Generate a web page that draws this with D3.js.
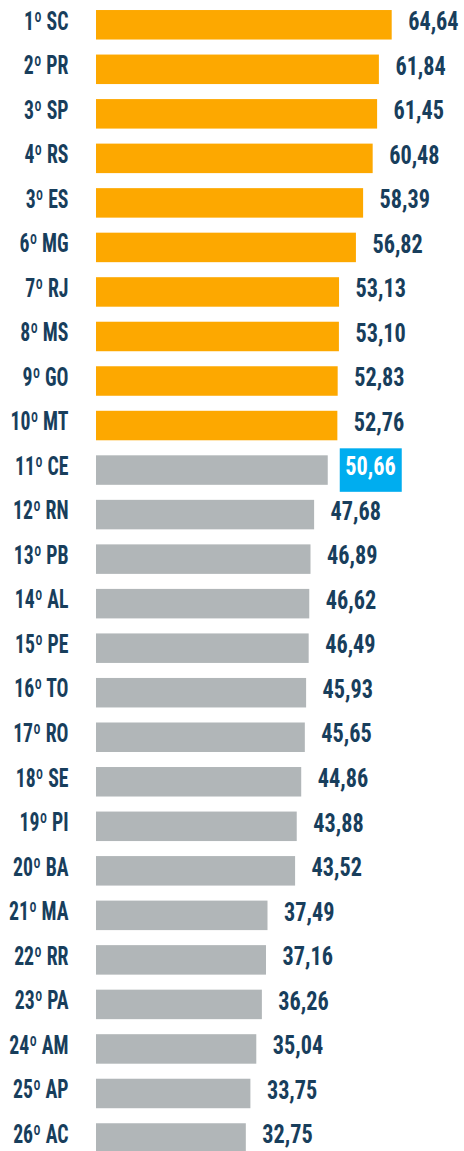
<!DOCTYPE html>
<html>
<head>
<meta charset="utf-8">
<script src="https://d3js.org/d3.v7.min.js"></script>
<style>
    body { margin: 0; background: #fff; }
    svg text {
        font-family: Roboto, sans-serif;
        font-weight: 700;
        font-stretch: condensed;
        font-size: 25px;
    }
</style>
</head>
<body>
<svg width="464" height="1151"></svg>
<script>
    // dados
    const labels = ["1º SC", "2º PR", "3º SP", "4º RS", "3º ES", "6º MG", "7º RJ", "8º MS", "9º GO", "10º MT",
                    "11º CE", "12º RN", "13º PB", "14º AL", "15º PE", "16º TO", "17º RO", "18º SE", "19º PI", "20º BA",
                    "21º MA", "22º RR", "23º PA", "24º AM", "25º AP", "26º AC"];
    const values = [64.64, 61.84, 61.45, 60.48, 58.39, 56.82, 53.13, 53.10, 52.83, 52.76,
                    50.66, 47.68, 46.89, 46.62, 46.49, 45.93, 45.65, 44.86, 43.88, 43.52,
                    37.49, 37.16, 36.26, 35.04, 33.75, 32.75];
    const topCount = 10;     // primeiros 10 em laranja
    const highlight = "11º CE";

    const data = labels.map((l, i) => ({label: l, value: values[i], rank: i}));

    const orange = "#fda800", gray = "#b1b6b8", blue = "#00adef", ink = "#183e5c";
    const sxLabel = 0.79, sxValue = 0.89; // compressão horizontal do texto

    const x = d3.scaleLinear().domain([0, 64.64]).range([96, 391.7]);
    const y = d3.scaleBand()
        .domain(labels)
        .range([2.5, 2.5 + 26 * 44.53])
        .paddingInner(0.3375)
        .paddingOuter(0.169);

    const svg = d3.select("svg");

    const row = svg.selectAll(".row")
        .data(data)
        .enter().append("g")
        .attr("class", "row")
        .attr("transform", d => `translate(0,${y(d.label)})`);

    row.append("rect")
        .attr("x", x(0))
        .attr("width", d => x(d.value) - x(0))
        .attr("height", y.bandwidth())
        .attr("fill", d => d.rank < topCount ? orange : gray);

    // rótulos à esquerda
    row.append("text")
        .attr("transform", `translate(68.5,19.5) scale(${sxLabel},1)`)
        .attr("text-anchor", "end")
        .attr("fill", ink)
        .text(d => d.label);

    // caixa azul do CE
    row.filter(d => d.label === highlight)
        .append("rect")
        .attr("x", d => x(d.value) + 12)
        .attr("y", -7)
        .attr("width", 62)
        .attr("height", y.bandwidth() + 14)
        .attr("fill", blue);

    // valores
    const fmt = v => v.toFixed(2).replace(".", ",");
    row.append("text")
        .attr("transform", d => {
            const off = d.label === highlight ? 17.5 : 16.5;
            return `translate(${x(d.value) + off},20) scale(${sxValue},1)`;
        })
        .attr("fill", d => d.label === highlight ? "#fff" : ink)
        .text(d => fmt(d.value));
</script>
</body>
</html>
